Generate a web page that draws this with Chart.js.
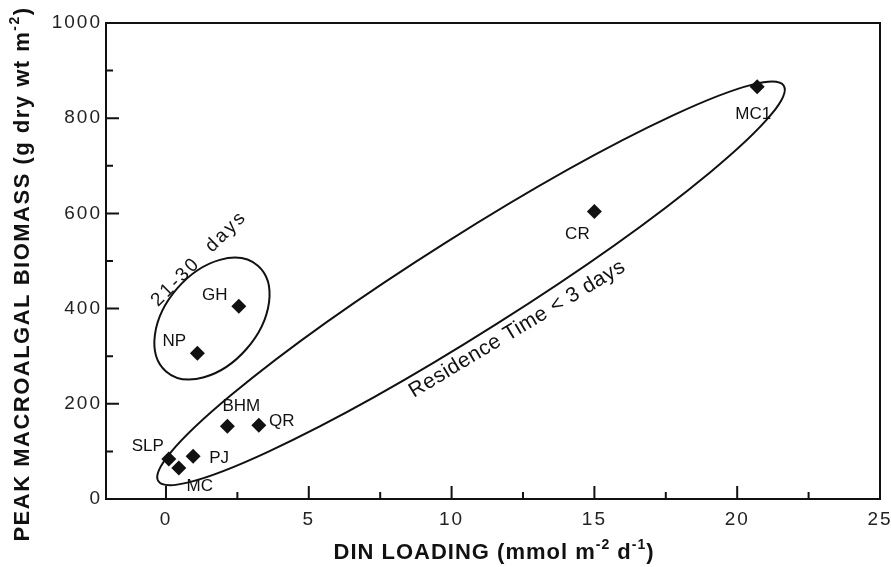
<!DOCTYPE html>
<html>
<head>
<meta charset="utf-8">
<script src="https://cdn.jsdelivr.net/npm/chart.js@4.4.0/dist/chart.umd.min.js"></script>
<style>
html, body { margin: 0; padding: 0; background: #fff; }
</style>
</head>
<body>
<canvas id="graficaBiomasa" width="891" height="567"></canvas>
<script>
// datos
const siteNames = ['SLP', 'MC', 'PJ', 'BHM', 'QR', 'NP', 'GH', 'CR', 'MC1'];
const dinLoading = [0.1, 0.45, 0.95, 2.15, 3.25, 1.1, 2.55, 15.0, 20.7];
const peakBiomass = [84, 65, 90, 153, 155, 306, 405, 604, 866];

const xTicks = [0, 5, 10, 15, 20, 25];
const xMinor = [2.5, 7.5, 12.5, 17.5, 22.5];
const yTicks = [0, 200, 400, 600, 800, 1000];
const yMinor = [100, 300, 500, 700, 900];

// desplazamiento de cada etiqueta respecto a su punto (px)
const labelOffsets = [[-21, -13], [21, 18], [26, 2], [14, -20], [23, -4], [-23, -12], [-24, -11], [-17, 23], [-4, 28]];

// elipses: centro en unidades de datos, semiejes en px
const ellipses = [
    { cx: 1.61, cy: 379, rx: 70, ry: 46, angle: -49 },
    { cx: 10.68, cy: 453, rx: 370, ry: 48, angle: -32.3 }
];
const notes = [
    { text: '21-30  days', x: 1.16, y: 505, angle: -45, size: 19, spacing: 2.5 },
    { text: 'Residence Time < 3 days', x: 12.3, y: 357, angle: -31, size: 21, spacing: 0.5 }
];

const FAMILIA = '"Liberation Sans", Arial, Helvetica, sans-serif';

function textoRico(ctx, partes, x, y, rot, size, spacing) {
    ctx.save();
    ctx.translate(x, y);
    ctx.rotate(rot);
    ctx.letterSpacing = spacing + 'px';
    ctx.fillStyle = '#111';
    ctx.textAlign = 'left';
    ctx.textBaseline = 'alphabetic';
    const fBase = 'bold ' + size + 'px ' + FAMILIA;
    const fSup = 'bold ' + Math.round(size * 0.62) + 'px ' + FAMILIA;
    let total = 0;
    partes.forEach(p => {
        ctx.font = p.sup ? fSup : fBase;
        p.w = ctx.measureText(p.t).width;
        total += p.w;
    });
    let cx = -total / 2;
    partes.forEach(p => {
        ctx.font = p.sup ? fSup : fBase;
        ctx.fillText(p.t, cx, p.sup ? size * 0.35 - size * 0.45 : size * 0.35);
        cx += p.w;
    });
    ctx.restore();
}

const decoracion = {
    id: 'decoracion',
    beforeDraw(chart) {
        chart.ctx.letterSpacing = '2px';
    },
    beforeDatasetsDraw(chart) {
        const ctx = chart.ctx, xs = chart.scales.x, ys = chart.scales.y;
        ctx.letterSpacing = '0px';
        ctx.save();
        ctx.strokeStyle = '#111';
        ctx.lineWidth = 2;
        ellipses.forEach(e => {
            ctx.beginPath();
            ctx.ellipse(xs.getPixelForValue(e.cx), ys.getPixelForValue(e.cy), e.rx, e.ry, e.angle * Math.PI / 180, 0, 2 * Math.PI);
            ctx.stroke();
        });
        ctx.restore();
    },
    afterDatasetsDraw(chart) {
        const ctx = chart.ctx, xs = chart.scales.x, ys = chart.scales.y, a = chart.chartArea;
        ctx.save();
        ctx.strokeStyle = '#111';
        ctx.lineWidth = 2;
        ctx.strokeRect(a.left, a.top, a.right - a.left, a.bottom - a.top);

        ctx.beginPath();
        xTicks.forEach(v => { const p = xs.getPixelForValue(v); ctx.moveTo(p, a.bottom); ctx.lineTo(p, a.bottom - 13); });
        xMinor.forEach(v => { const p = xs.getPixelForValue(v); ctx.moveTo(p, a.bottom); ctx.lineTo(p, a.bottom - 7); });
        yTicks.forEach(v => { const p = ys.getPixelForValue(v); ctx.moveTo(a.left, p); ctx.lineTo(a.left + 13, p); });
        yMinor.forEach(v => { const p = ys.getPixelForValue(v); ctx.moveTo(a.left, p); ctx.lineTo(a.left + 7, p); });
        ctx.stroke();

        // etiquetas de los puntos
        ctx.fillStyle = '#111';
        ctx.font = '17px ' + FAMILIA;
        ctx.textAlign = 'center';
        ctx.textBaseline = 'middle';
        siteNames.forEach((n, i) => {
            const px = xs.getPixelForValue(dinLoading[i]) + labelOffsets[i][0];
            const py = ys.getPixelForValue(peakBiomass[i]) + labelOffsets[i][1];
            ctx.fillText(n, px, py);
        });

        notes.forEach(t => {
            ctx.save();
            ctx.translate(xs.getPixelForValue(t.x), ys.getPixelForValue(t.y));
            ctx.rotate(t.angle * Math.PI / 180);
            ctx.letterSpacing = t.spacing + 'px';
            ctx.font = t.size + 'px ' + FAMILIA;
            ctx.fillText(t.text, 0, 0);
            ctx.restore();
        });
        ctx.restore();

        textoRico(ctx, [{ t: 'DIN LOADING (mmol m' }, { t: '-2', sup: true }, { t: ' d' }, { t: '-1', sup: true }, { t: ')' }],
            494, 551, 0, 22, 1.0);
        textoRico(ctx, [{ t: 'PEAK MACROALGAL BIOMASS (g dry wt m' }, { t: '-2', sup: true }, { t: ')' }],
            21, 274, -Math.PI / 2, 22, 1.5);
    }
};

const grafica = new Chart(document.getElementById('graficaBiomasa').getContext('2d'), {
    type: 'scatter',
    data: {
        datasets: [{
            label: 'Peak biomass',
            data: dinLoading.map((x, i) => ({ x: x, y: peakBiomass[i] })),
            pointStyle: 'rectRot',
            pointRadius: 7.5,
            pointHoverRadius: 7.5,
            backgroundColor: '#111',
            borderColor: '#111',
            borderWidth: 0
        }]
    },
    options: {
        responsive: false,
        animation: false,
        devicePixelRatio: 1,
        layout: { padding: { left: 0, top: 23, right: 11, bottom: 0 } },
        plugins: { legend: { display: false }, tooltip: { enabled: false } },
        scales: {
            x: {
                type: 'linear',
                min: -2.1,
                max: 25,
                grid: { display: false, drawTicks: false },
                border: { display: false },
                ticks: {
                    font: { family: FAMILIA, size: 19 }, color: '#222', padding: 9, maxRotation: 0,
                    callback: v => String(v)
                },
                afterBuildTicks: s => { s.ticks = xTicks.map(v => ({ value: v })); },
                afterFit: s => { s.height = 68; s.paddingLeft = 0; s.paddingRight = 0; }
            },
            y: {
                type: 'linear',
                min: 0,
                max: 1000,
                grid: { display: false, drawTicks: false },
                border: { display: false },
                ticks: {
                    font: { family: FAMILIA, size: 19 }, color: '#222', padding: 4,
                    callback: v => String(v)
                },
                afterBuildTicks: s => { s.ticks = yTicks.map(v => ({ value: v })); },
                afterFit: s => { s.width = 106; s.paddingTop = 0; s.paddingBottom = 0; }
            }
        }
    },
    plugins: [decoracion]
});
</script>
</body>
</html>
